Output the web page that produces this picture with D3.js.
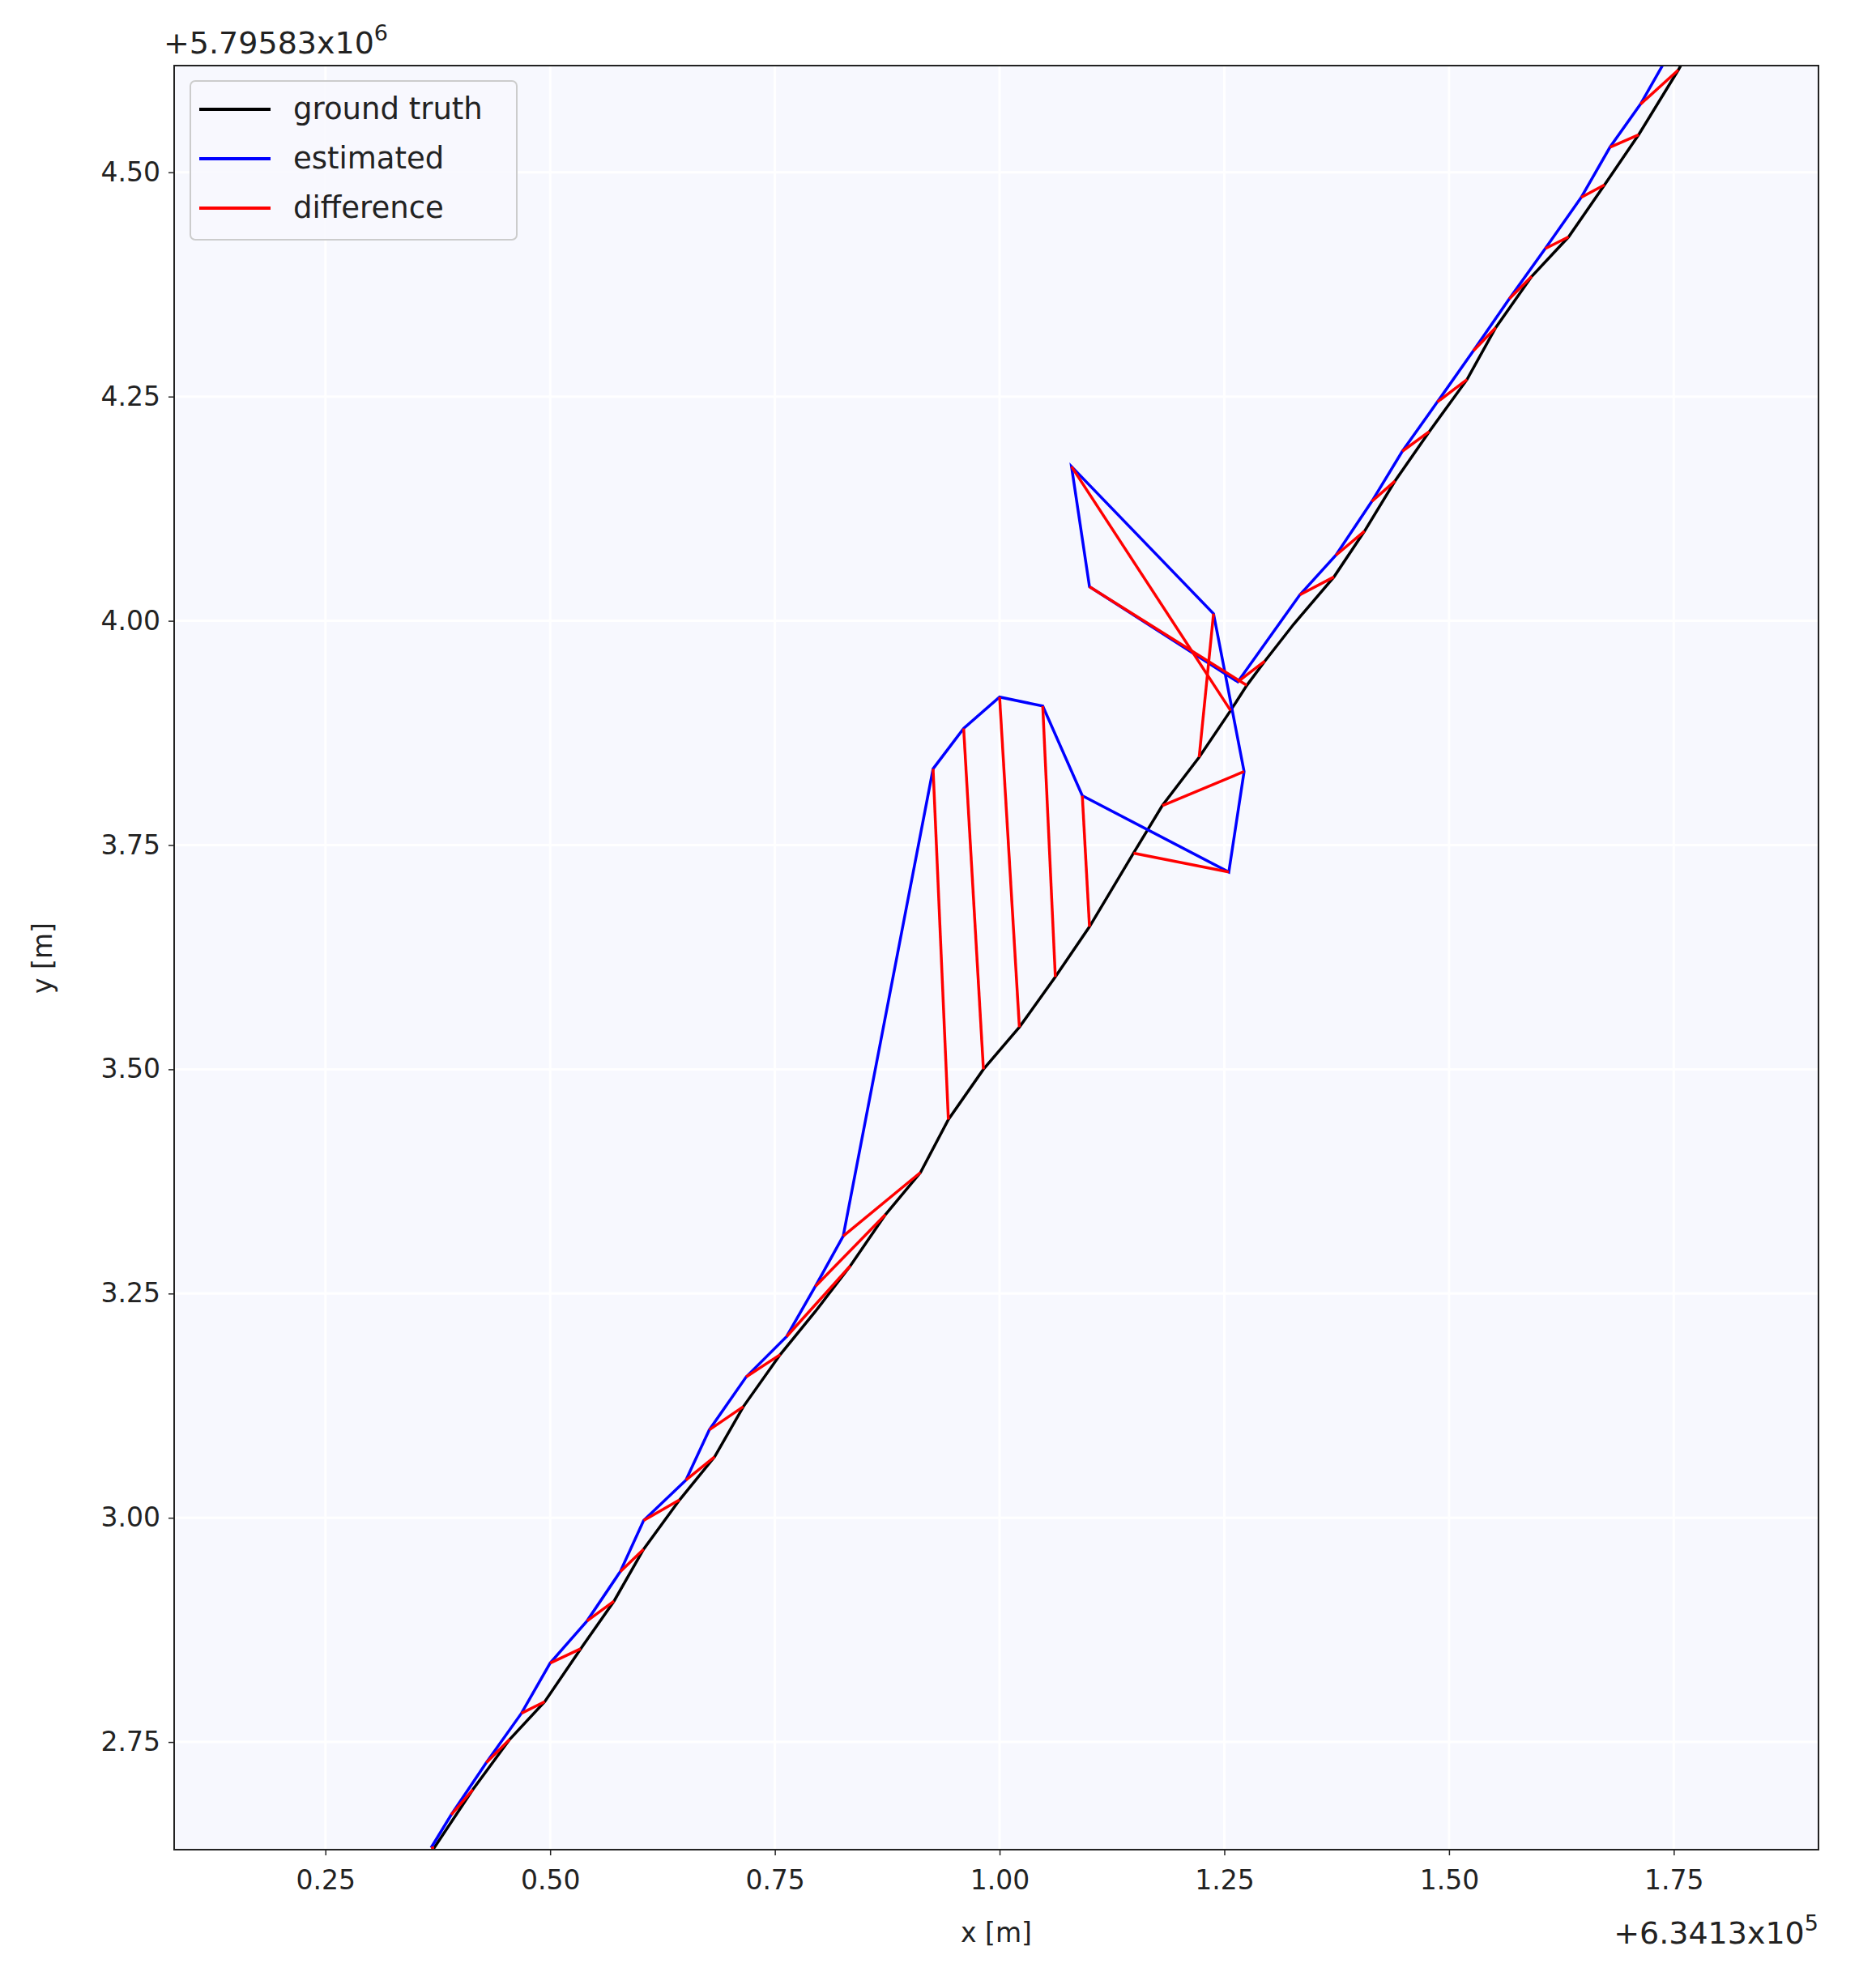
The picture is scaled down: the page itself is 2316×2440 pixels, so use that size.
<!DOCTYPE html>
<html><head><meta charset="utf-8">
<script src="https://cdn.jsdelivr.net/npm/d3@7"></script>
<style>body{margin:0;background:#fff}text{font-family:"DejaVu Sans",sans-serif}</style>
</head><body>
<svg id="c" width="2316" height="2440"></svg>
<script>
const gtX=[0.340,0.371,0.414,0.455,0.494,0.534,0.571,0.604,0.644,0.683,0.715,0.756,0.795,0.834,0.873,0.912,0.943,0.982,1.022,1.062,1.100,1.149,1.181,1.222,1.257,1.275,1.295,1.327,1.372,1.406,1.440,1.478,1.520,1.552,1.592,1.633,1.673,1.711,1.755,1.773];
const gtY=[2.595,2.632,2.697,2.753,2.795,2.854,2.907,2.965,3.020,3.068,3.124,3.182,3.230,3.281,3.338,3.385,3.444,3.500,3.547,3.603,3.659,3.741,3.794,3.848,3.900,3.928,3.955,3.996,4.049,4.100,4.156,4.211,4.269,4.327,4.384,4.428,4.486,4.542,4.614,4.646];
const estX=[0.3675,0.390,0.429,0.468,0.500,0.541,0.578,0.604,0.651,0.677,0.718,0.763,0.795,0.826,0.926,0.960,1.000,1.048,1.092,1.255,1.272,1.238,1.080,1.100,1.265,1.334,1.374,1.414,1.448,1.487,1.527,1.567,1.607,1.647,1.679,1.713,1.755];
const estY=[2.632,2.669,2.727,2.782,2.838,2.885,2.940,2.997,3.042,3.098,3.157,3.202,3.258,3.314,3.835,3.880,3.915,3.905,3.805,3.720,3.832,4.008,4.172,4.038,3.932,4.029,4.073,4.133,4.189,4.244,4.301,4.359,4.415,4.472,4.528,4.576,4.650];
const pairGtIndex=[1,2,3,4,5,6,7,8,9,10,11,13,14,15,16,17,18,19,20,21,22,23,24,25,26,28,29,30,31,32,33,34,35,36,37,38,39];
const xTicks=[0.25,0.50,0.75,1.00,1.25,1.50,1.75];
const yTicks=[2.75,3.00,3.25,3.50,3.75,4.00,4.25,4.50];
const legendLabels=["ground truth","estimated","difference"];
const colors=["#000000","#0000ff","#ff0000"];

const svg=d3.select("#c");
const L=215,R=2245,T=81,B=2284;
const x=d3.scaleLinear().domain([0.0817,1.911]).range([L,R]);
const y=d3.scaleLinear().domain([2.630,4.619]).range([B,T]);
svg.append("rect").attr("x",L).attr("y",T).attr("width",R-L).attr("height",B-T).attr("fill","#f7f8fe");
svg.append("defs").append("clipPath").attr("id","cp").append("rect").attr("x",L).attr("y",T).attr("width",R-L).attr("height",B-T);
const g=svg.append("g");
xTicks.forEach(t=>g.append("line").attr("x1",x(t)).attr("x2",x(t)).attr("y1",T).attr("y2",B).attr("stroke","#fff").attr("stroke-width",3));
yTicks.forEach(t=>g.append("line").attr("y1",y(t)).attr("y2",y(t)).attr("x1",L).attr("x2",R).attr("stroke","#fff").attr("stroke-width",3));
const plot=svg.append("g").attr("clip-path","url(#cp)");
const line=d3.line();
plot.append("path").attr("d",line(gtX.map((v,i)=>[x(v),y(gtY[i])]))).attr("fill","none").attr("stroke",colors[0]).attr("stroke-width",3.5);
plot.append("path").attr("d",line(estX.map((v,i)=>[x(v),y(estY[i])]))).attr("fill","none").attr("stroke",colors[1]).attr("stroke-width",3.5);
estX.forEach((v,i)=>{const j=pairGtIndex[i];
 plot.append("line").attr("x1",x(v)).attr("y1",y(estY[i])).attr("x2",x(gtX[j])).attr("y2",y(gtY[j])).attr("stroke",colors[2]).attr("stroke-width",3.5);});
svg.append("rect").attr("x",L).attr("y",T).attr("width",R-L).attr("height",B-T).attr("fill","none").attr("stroke","#222").attr("stroke-width",2);
const xa=svg.append("g").attr("transform",`translate(0,${B})`).call(d3.axisBottom(x).tickValues(xTicks).tickFormat(d3.format(".2f")).tickSize(7).tickPadding(12));
const ya=svg.append("g").attr("transform",`translate(${L},0)`).call(d3.axisLeft(y).tickValues(yTicks).tickFormat(d3.format(".2f")).tickSize(7).tickPadding(10));
[xa,ya].forEach(a=>{a.select(".domain").remove();a.selectAll("text").attr("font-size",33).attr("fill","#222").attr("font-family","DejaVu Sans");a.selectAll("line").attr("stroke","#222").attr("stroke-width",1.5);});
xa.selectAll("text").attr("dy","0.9em");
svg.append("text").attr("x",(L+R)/2).attr("y",2398).attr("text-anchor","middle").attr("font-size",33).attr("fill","#222").text("x [m]");
svg.append("text").attr("transform","translate(64,1183) rotate(-90)").attr("text-anchor","middle").attr("font-size",33).attr("fill","#222").text("y [m]");
const t1=svg.append("text").attr("x",202).attr("y",66).attr("font-size",38).attr("fill","#222");
t1.append("tspan").text("+5.79583x10");t1.append("tspan").attr("dy",-16).attr("font-size",27).text("6");
const t2=svg.append("text").attr("x",2245).attr("y",2400).attr("text-anchor","end").attr("font-size",38).attr("fill","#222");
t2.append("tspan").text("+6.3413x10");t2.append("tspan").attr("dy",-16).attr("font-size",27).text("5");
const lg=svg.append("g");
lg.append("rect").attr("x",235).attr("y",100).attr("width",403).attr("height",196).attr("rx",6).attr("fill","#f7f8fe").attr("fill-opacity",0.8).attr("stroke","#ccc").attr("stroke-width",2);
legendLabels.forEach((s,i)=>{const yy=135+i*61;
 lg.append("line").attr("x1",246).attr("x2",334).attr("y1",yy).attr("y2",yy).attr("stroke",colors[i]).attr("stroke-width",4);
 lg.append("text").attr("x",362).attr("y",yy+12).attr("font-size",37).attr("fill","#222").text(s);});
</script></body></html>
